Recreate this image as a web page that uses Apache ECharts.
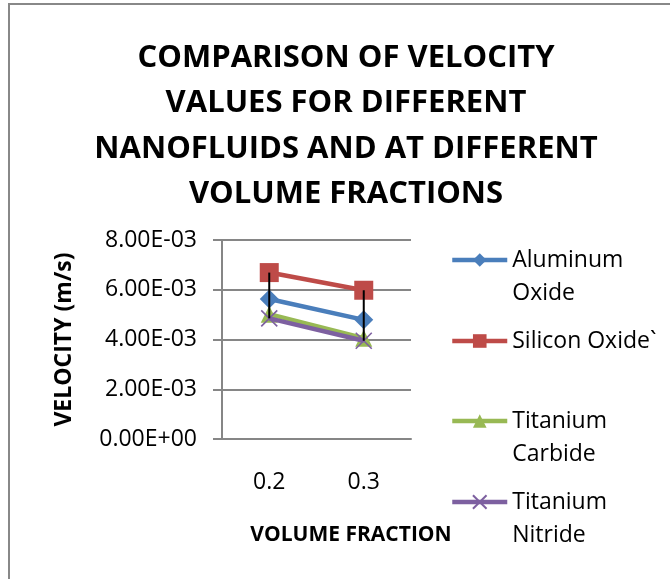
<!DOCTYPE html>
<html>
<head>
<meta charset="utf-8">
<script src="https://cdn.jsdelivr.net/npm/echarts@6/dist/echarts.min.js"></script>
<style>
html,body{margin:0;padding:0;background:#fff;}
#chart{width:670px;height:579px;}
</style>
</head>
<body>
<div id="chart"></div>
<script>
// ---- data ----
var categories = ['0.2', '0.3'];
var aluminumOxide = [0.00563, 0.00479];
var siliconOxide = [0.00669, 0.00598];
var titaniumCarbide = [0.00502, 0.00405];
var titaniumNitride = [0.00485, 0.00395];
var seriesNames = ['Aluminum Oxide', 'Silicon Oxide`', 'Titanium Carbide', 'Titanium Nitride'];
var legendLabels = ['Aluminum\nOxide', 'Silicon Oxide`', 'Titanium\nCarbide', 'Titanium\nNitride'];
var yTickLabels = ['0.00E+00', '2.00E-03', '4.00E-03', '6.00E-03', '8.00E-03'];
var titleText = 'COMPARISON OF VELOCITY\nVALUES FOR DIFFERENT\nNANOFLUIDS AND AT DIFFERENT\nVOLUME FRACTIONS';
var xAxisTitle = 'VOLUME FRACTION';
var yAxisTitle = 'VELOCITY (m/s)';

var allSeries = [aluminumOxide, siliconOxide, titaniumCarbide, titaniumNitride];
var hiLo = categories.map(function (c, i) {
  var vals = allSeries.map(function (s) { return s[i]; });
  return [i, Math.max.apply(null, vals), Math.min.apply(null, vals)];
});

var colors = ['#4A7EBB', '#BE4B48', '#98B954', '#7D60A0'];
var symbols = ['diamond', 'rect', 'triangle', 'path://M0,0L10,10M10,0L0,10'];
var symbolSizes = [19, 19, 17, 16];
var FONT = 'Open Sans';

var chart = echarts.init(document.getElementById('chart'));

var series = allSeries.map(function (data, k) {
  var s = {
    name: seriesNames[k],
    type: 'line',
    data: data,
    symbol: symbols[k],
    symbolSize: symbolSizes[k],
    showAllSymbol: true,
    lineStyle: { color: colors[k], width: 4.5 },
    itemStyle: { color: colors[k] },
    emphasis: { disabled: true },
    animation: false,
    z: 3 + k
  };
  if (k === 3) {
    s.itemStyle = { color: colors[k], borderColor: colors[k], borderWidth: 1.6 };
  }
  return s;
});

series.push({
  type: 'custom',
  data: hiLo,
  z: 20,
  silent: true,
  animation: false,
  renderItem: function (params, api) {
    var p1 = api.coord([api.value(0), api.value(1)]);
    var p2 = api.coord([api.value(0), api.value(2)]);
    return {
      type: 'line',
      shape: { x1: p1[0], y1: p1[1], x2: p2[0], y2: p2[1] },
      style: { stroke: '#000', lineWidth: 2 }
    };
  },
  encode: { x: 0, y: [1, 2] }
});

var legendCenters = [260, 341, 421, 502];
var legends = seriesNames.map(function (n, k) {
  var twoLine = legendLabels[k].indexOf('\n') >= 0;
  var lh = 33;
  var top = twoLine ? legendCenters[k] - 1.5 * lh : legendCenters[k] - lh / 2;
  return {
    data: [n],
    left: 450,
    top: top,
    padding: 0,
    orient: 'vertical',
    itemWidth: 55,
    itemHeight: 17,
    itemGap: 0,
    selectedMode: false,
    formatter: function () { return twoLine ? '\n' + legendLabels[k] : legendLabels[k]; },
    lineStyle: { width: 4.5 },
    textStyle: {
      fontFamily: FONT, fontSize: 23, color: '#000', lineHeight: lh
    }
  };
});

chart.setOption({
  backgroundColor: '#fff',
  animation: false,
  title: {
    text: titleText,
    left: 346,
    top: 35,
    textAlign: 'center',
    padding: 0,
    textStyle: { fontFamily: FONT, fontSize: 31, fontWeight: 'bold', color: '#000', lineHeight: 45.5 }
  },
  legend: legends,
  grid: { left: 222, right: 259, top: 240, bottom: 140, containLabel: false },
  xAxis: {
    type: 'category',
    data: categories,
    boundaryGap: true,
    name: xAxisTitle,
    nameLocation: 'middle',
    nameGap: 86,
    nameTextStyle: { fontFamily: FONT, fontSize: 21, fontWeight: 'bold', color: '#000', padding: [0, 0, 0, 69] },
    axisLine: { lineStyle: { color: '#868686', width: 2 } },
    axisTick: { show: false },
    axisLabel: { fontFamily: FONT, fontSize: 23, color: '#000', margin: 32 }
  },
  yAxis: {
    type: 'value',
    min: 0,
    max: 0.008,
    interval: 0.002,
    name: yAxisTitle,
    nameLocation: 'middle',
    nameGap: 146,
    nameRotate: 90,
    nameTextStyle: { fontFamily: FONT, fontSize: 23, fontWeight: 'bold', color: '#000' },
    axisLine: { show: true, lineStyle: { color: '#868686', width: 2 } },
    axisTick: { show: true, length: 9, lineStyle: { color: '#868686', width: 2 } },
    splitLine: { lineStyle: { color: '#868686', width: 2 } },
    axisLabel: {
      fontFamily: FONT, fontSize: 23, color: '#000', margin: 25,
      formatter: function (v) { return yTickLabels[Math.round(v / 0.002)]; }
    }
  },
  graphic: [{
    type: 'rect',
    shape: { x: 9, y: 4, width: 700, height: 700 },
    style: { fill: null, stroke: '#888', lineWidth: 2 },
    silent: true,
    z: 100
  }],
  series: series
});
</script>
</body>
</html>
